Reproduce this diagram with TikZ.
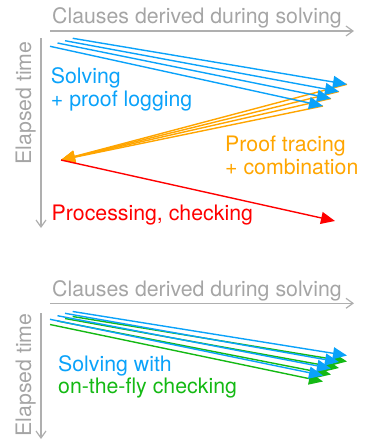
\documentclass[tikz,border=0pt]{standalone}
\usepackage{fontspec}
\setmainfont{TeX Gyre Heros}
\usetikzlibrary{arrows.meta}
\definecolor{axisgray}{RGB}{175,175,175}
\definecolor{labelgray}{RGB}{165,165,165}
\definecolor{solveblue}{RGB}{10,162,250}
\definecolor{traceorange}{RGB}{255,165,0}
\definecolor{checkred}{RGB}{255,0,0}
\definecolor{flygreen}{RGB}{20,185,20}
\tikzset{
  axisline/.style={draw=axisgray, line width=1.2pt, -{Straight Barb[length=7pt,width=10pt]}},
  flow/.style={line width=1.4pt, -{Triangle[length=14pt,width=12pt]}},
  lbl/.style={inner sep=0pt, anchor=base west, font=\fontsize{21.3}{23}\selectfont},
  axislbl/.style={inner sep=0pt, text=labelgray, font=\fontsize{21.3}{23}\selectfont},
}
\begin{document}
\begin{tikzpicture}[x=1pt, y=-1pt]
\useasboundingbox (0,0) rectangle (366,440);

% ---------- upper panel: logging, tracing, checking ----------
\coordinate (hA) at (50,31);  \coordinate (hB) at (354,31);
\coordinate (vA) at (41,38);  \coordinate (vB) at (41,228);
\draw[axisline] (hA) -- (hB);
\draw[axisline] (vA) -- (vB);
\node[axislbl, anchor=base west] (tx1) at (52,23) {Clauses derived during solving};
\node[axislbl, rotate=90, anchor=base] (ty1) at (31,103) {Elapsed time};

\coordinate (s1) at (50,46.3);   \coordinate (e1) at (323,106);
\coordinate (s2) at (57.5,43);   \coordinate (e2) at (331,98.5);
\coordinate (s3) at (65,40.7);   \coordinate (e3) at (339,91.5);
\coordinate (s4) at (72.7,38.3); \coordinate (e4) at (347,84.3);
\coordinate (trc) at (61,160);
\coordinate (chk) at (335,221);

\foreach \i in {1,...,4}
  \draw[flow, traceorange] (e\i) -- (trc);
\foreach \i in {1,...,4}
  \draw[flow, solveblue] (s\i) -- (e\i);
\draw[flow, checkred] (trc) -- (chk);

\node[lbl, text=solveblue] (l1) at (50.7,83.3) {Solving};
\node[lbl, text=solveblue] (l2) at (50.7,106.5) {+ proof logging};
\node[lbl, text=traceorange] (l3) at (225,151) {Proof tracing};
\node[lbl, text=traceorange] (l4) at (225,174) {+ combination};
\node[lbl, text=checkred] (l5) at (51.5,220) {Processing, checking};

% ---------- lower panel: on-the-fly checking ----------
\coordinate (hC) at (50,303.3); \coordinate (hD) at (354,303.3);
\coordinate (vC) at (41,313);   \coordinate (vD) at (41,439);
\draw[axisline] (hC) -- (hD);
\draw[axisline] (vC) -- (vD);
\node[axislbl, anchor=base west] (tx2) at (52,296) {Clauses derived during solving};
\node[axislbl, rotate=90, anchor=base] (ty2) at (31,375) {Elapsed time};

\coordinate (b1) at (50,319.3);   \coordinate (f1) at (323,375.5);
\coordinate (b2) at (57.5,315.7); \coordinate (f2) at (331,368.5);
\coordinate (b3) at (65,313.3);   \coordinate (f3) at (339,362);
\coordinate (b4) at (72.7,311.5); \coordinate (f4) at (347,355.5);
\coordinate (g1) at (50,324.5);   \coordinate (h1) at (323,381.5);
\coordinate (g2) at (57.5,321);   \coordinate (h2) at (331,374.5);
\coordinate (g3) at (65,318.5);   \coordinate (h3) at (339,368);
\coordinate (g4) at (72.7,316.5); \coordinate (h4) at (347,361.5);

\foreach \i in {1,...,4}
  \draw[flow, flygreen] (g\i) -- (h\i);
\foreach \i in {1,...,4}
  \draw[flow, solveblue] (b\i) -- (f\i);

\node[lbl, text=solveblue] (l6) at (58,371) {Solving with};
\node[lbl, text=flygreen] (l7) at (58,393) {on-the-fly checking};
\end{tikzpicture}
\end{document}
